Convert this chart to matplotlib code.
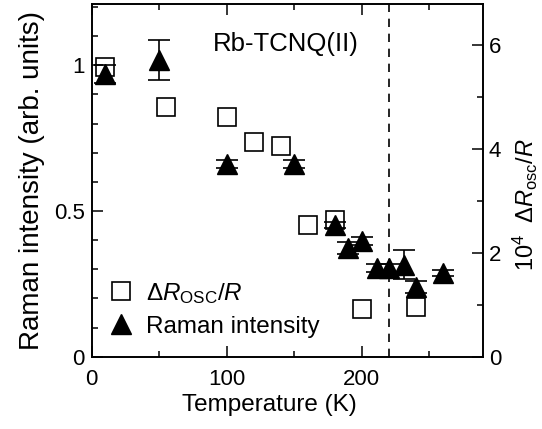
import matplotlib
matplotlib.use("Agg")
import matplotlib.pyplot as plt
from matplotlib.ticker import MultipleLocator
from matplotlib.lines import Line2D

plt.rcParams['font.family'] = ['Liberation Sans', 'DejaVu Sans']
plt.rcParams['mathtext.fontset'] = 'custom'
plt.rcParams['mathtext.rm'] = 'Liberation Sans'
plt.rcParams['mathtext.it'] = 'Liberation Sans:italic'
plt.rcParams['mathtext.bf'] = 'Liberation Sans:bold'

# Raman intensity (left axis)
raman_T = [10, 50, 100, 150, 180, 190, 200, 211, 220, 231, 240, 260]
raman_I = [0.970, 1.018, 0.661, 0.661, 0.452, 0.373, 0.397, 0.304, 0.304, 0.315, 0.239, 0.287]
raman_err = [0.03, 0.07, 0.015, 0.015, 0.01, 0.02, 0.015, 0.015, 0.015, 0.05, 0.02, 0.01]

# Delta R_osc / R (right axis, x 1e4)
osc_T = [10, 55, 100, 120, 140, 160, 180, 200, 240]
osc_R = [5.58, 4.81, 4.63, 4.13, 4.06, 2.54, 2.63, 0.92, 0.96]

T_c = 220

fig = plt.figure(figsize=(5.42, 4.29), dpi=100)
ax = fig.add_axes([0.169, 0.1685, 0.7227, 0.8222])
ax2 = ax.twinx()
ax.set_zorder(ax2.get_zorder() + 1)
ax.patch.set_visible(False)

tfs = 16
sq = ax2.plot(osc_T, osc_R, 's', ms=13, mfc='white', mec='black', mew=1.2)[0]
ax.errorbar(raman_T, raman_I, yerr=raman_err, fmt='^', ms=15, color='black',
            mec='black', ecolor='black', elinewidth=1.2, capsize=8, capthick=1.2)
tri = Line2D([], [], ls='none', marker='^', ms=15, color='black')
ax.axvline(T_c, color='black', ls=(0, (5, 4)), lw=1.2)

ax.set_xlim(0, 290)
ax.set_ylim(0, 1.21)
ax2.set_ylim(0, 6.8)

ax.xaxis.set_major_locator(MultipleLocator(100))
ax.xaxis.set_minor_locator(MultipleLocator(50))
ax.yaxis.set_major_locator(MultipleLocator(0.5))
ax.yaxis.set_minor_locator(MultipleLocator(0.1))
ax2.yaxis.set_major_locator(MultipleLocator(2))
ax2.yaxis.set_minor_locator(MultipleLocator(1))

ax.set_yticks([0, 0.5, 1])
ax.set_yticklabels(['0', '0.5', '1'])

ax.tick_params(which='both', direction='in', top=True, right=False, labelsize=tfs, width=1.1)
ax.tick_params(which='major', length=8)
ax.tick_params(which='minor', length=4)
ax.tick_params(axis='x', pad=9)
ax.tick_params(axis='y', pad=5)
ax2.tick_params(which='both', direction='in', labelsize=tfs, width=1.1, pad=4)
ax2.tick_params(which='major', length=8)
ax2.tick_params(which='minor', length=4)

for a in (ax, ax2):
    for s in a.spines.values():
        s.set_linewidth(1.2)

ax.set_xlabel('Temperature (K)', fontsize=17.5, labelpad=3, x=0.455)
ax.set_ylabel('Raman intensity (arb. units)', fontsize=20, labelpad=6)
ax2.set_ylabel(r'10$^4$ $\;\Delta R_{\rm osc}/R$', fontsize=17, labelpad=7, y=0.43)

ax.text(0.31, 0.887, 'Rb-TCNQ(II)', transform=ax.transAxes, fontsize=18.5,
        ha='left', va='center')

ax.legend([sq, tri], [r'$\Delta R_{\rm OSC}/R$', 'Raman intensity'],
          loc='lower left', bbox_to_anchor=(0.0, 0.005), frameon=False,
          fontsize=17.5, handlelength=1.0, handletextpad=0.55, labelspacing=0.42,
          borderaxespad=0.3)

fig.savefig('out.png', dpi=100)
